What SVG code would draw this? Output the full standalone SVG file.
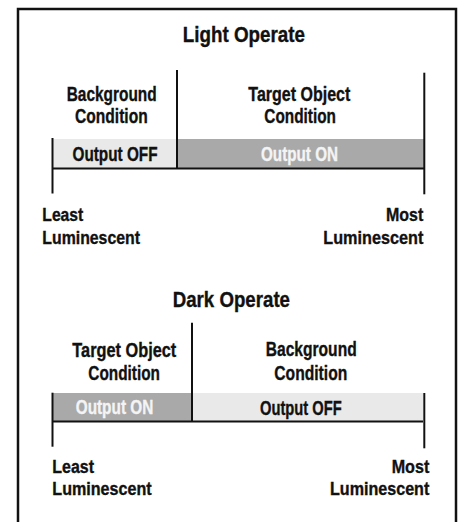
<svg xmlns="http://www.w3.org/2000/svg" width="458" height="522" viewBox="0 0 458 522">
<style>
text{font-family:"Liberation Sans",Arial,sans-serif;font-weight:bold;fill:#111;stroke:#111;stroke-width:0.35;}
.t{font-size:21.5px;}
.l{font-size:19.5px;}
.e{font-size:18px;}
.w{fill:#f4f4f4;stroke:#f4f4f4;}
.ln{stroke:#111;stroke-width:2;fill:none;}
.on{fill:#a9a9a9;}
.off{fill:#e9e9e9;}
</style>
<rect x="18" y="9" width="438" height="540" fill="#fff" stroke="#111" stroke-width="2.5"/>
<g id="light-title"><text class="t" x="182.7" y="41.7" textLength="122.3" lengthAdjust="spacingAndGlyphs">Light Operate</text></g>
<g id="light-background">
<text class="l" x="66.7" y="101" textLength="90" lengthAdjust="spacingAndGlyphs">Background</text>
<text class="l" x="75" y="123.3" textLength="72.7" lengthAdjust="spacingAndGlyphs">Condition</text>
</g>
<g id="light-target">
<text class="l" x="248.3" y="101.3" textLength="102" lengthAdjust="spacingAndGlyphs">Target Object</text>
<text class="l" x="264.3" y="123.3" textLength="71.7" lengthAdjust="spacingAndGlyphs">Condition</text>
</g>
<g id="light-off"><rect class="off" x="52" y="139" width="125" height="29"/><text class="l" x="72.5" y="160.7" textLength="85" lengthAdjust="spacingAndGlyphs">Output OFF</text></g>
<g id="light-on"><rect class="on" x="177" y="139" width="247" height="29"/><text class="l w" x="261" y="160.5" textLength="77" lengthAdjust="spacingAndGlyphs">Output ON</text></g>
<g id="light-least"><text class="e" x="42.3" y="220.5" textLength="41" lengthAdjust="spacingAndGlyphs">Least</text><text class="e" x="42.3" y="244.3" textLength="97.7" lengthAdjust="spacingAndGlyphs">Luminescent</text></g>
<g id="light-most"><text class="e" x="386" y="220.5" textLength="37.3" lengthAdjust="spacingAndGlyphs">Most</text><text class="e" x="323.3" y="244.3" textLength="100" lengthAdjust="spacingAndGlyphs">Luminescent</text></g>

<g id="dark-title"><text class="t" x="172.7" y="306.7" textLength="117.3" lengthAdjust="spacingAndGlyphs">Dark Operate</text></g>
<g id="dark-target">
<text class="l" x="72.3" y="357" textLength="104" lengthAdjust="spacingAndGlyphs">Target Object</text>
<text class="l" x="88.3" y="380" textLength="71.7" lengthAdjust="spacingAndGlyphs">Condition</text>
</g>
<g id="dark-background">
<text class="l" x="265.7" y="356" textLength="91" lengthAdjust="spacingAndGlyphs">Background</text>
<text class="l" x="274.3" y="379.5" textLength="73" lengthAdjust="spacingAndGlyphs">Condition</text>
</g>
<g id="dark-on"><rect class="on" x="52" y="393" width="140" height="28.5"/><text class="l w" x="75.7" y="414.3" textLength="77.6" lengthAdjust="spacingAndGlyphs">Output ON</text></g>
<g id="dark-off"><rect class="off" x="192" y="393" width="231" height="28.5"/><text class="l" x="260" y="415" textLength="81.7" lengthAdjust="spacingAndGlyphs">Output OFF</text></g>
<g id="dark-least"><text class="e" x="52.3" y="473.3" textLength="41.7" lengthAdjust="spacingAndGlyphs">Least</text><text class="e" x="52.3" y="495" textLength="99.3" lengthAdjust="spacingAndGlyphs">Luminescent</text></g>
<g id="dark-most"><text class="e" x="391.7" y="473.3" textLength="37.6" lengthAdjust="spacingAndGlyphs">Most</text><text class="e" x="330" y="495" textLength="99.3" lengthAdjust="spacingAndGlyphs">Luminescent</text></g>

<g id="connectors">
<line class="ln" x1="52" y1="168.5" x2="424" y2="168.5"/>
<line class="ln" x1="52.5" y1="138" x2="52.5" y2="193.5"/>
<line class="ln" x1="177" y1="70" x2="177" y2="169"/>
<line class="ln" x1="424.3" y1="72.7" x2="424.3" y2="194.3"/>
<line class="ln" x1="52" y1="421.5" x2="423" y2="421.5"/>
<line class="ln" x1="52.5" y1="392.7" x2="52.5" y2="446.7"/>
<line class="ln" x1="192" y1="322.7" x2="192" y2="422"/>
<line class="ln" x1="424.3" y1="393" x2="424.3" y2="448.3"/>
</g>
</svg>
